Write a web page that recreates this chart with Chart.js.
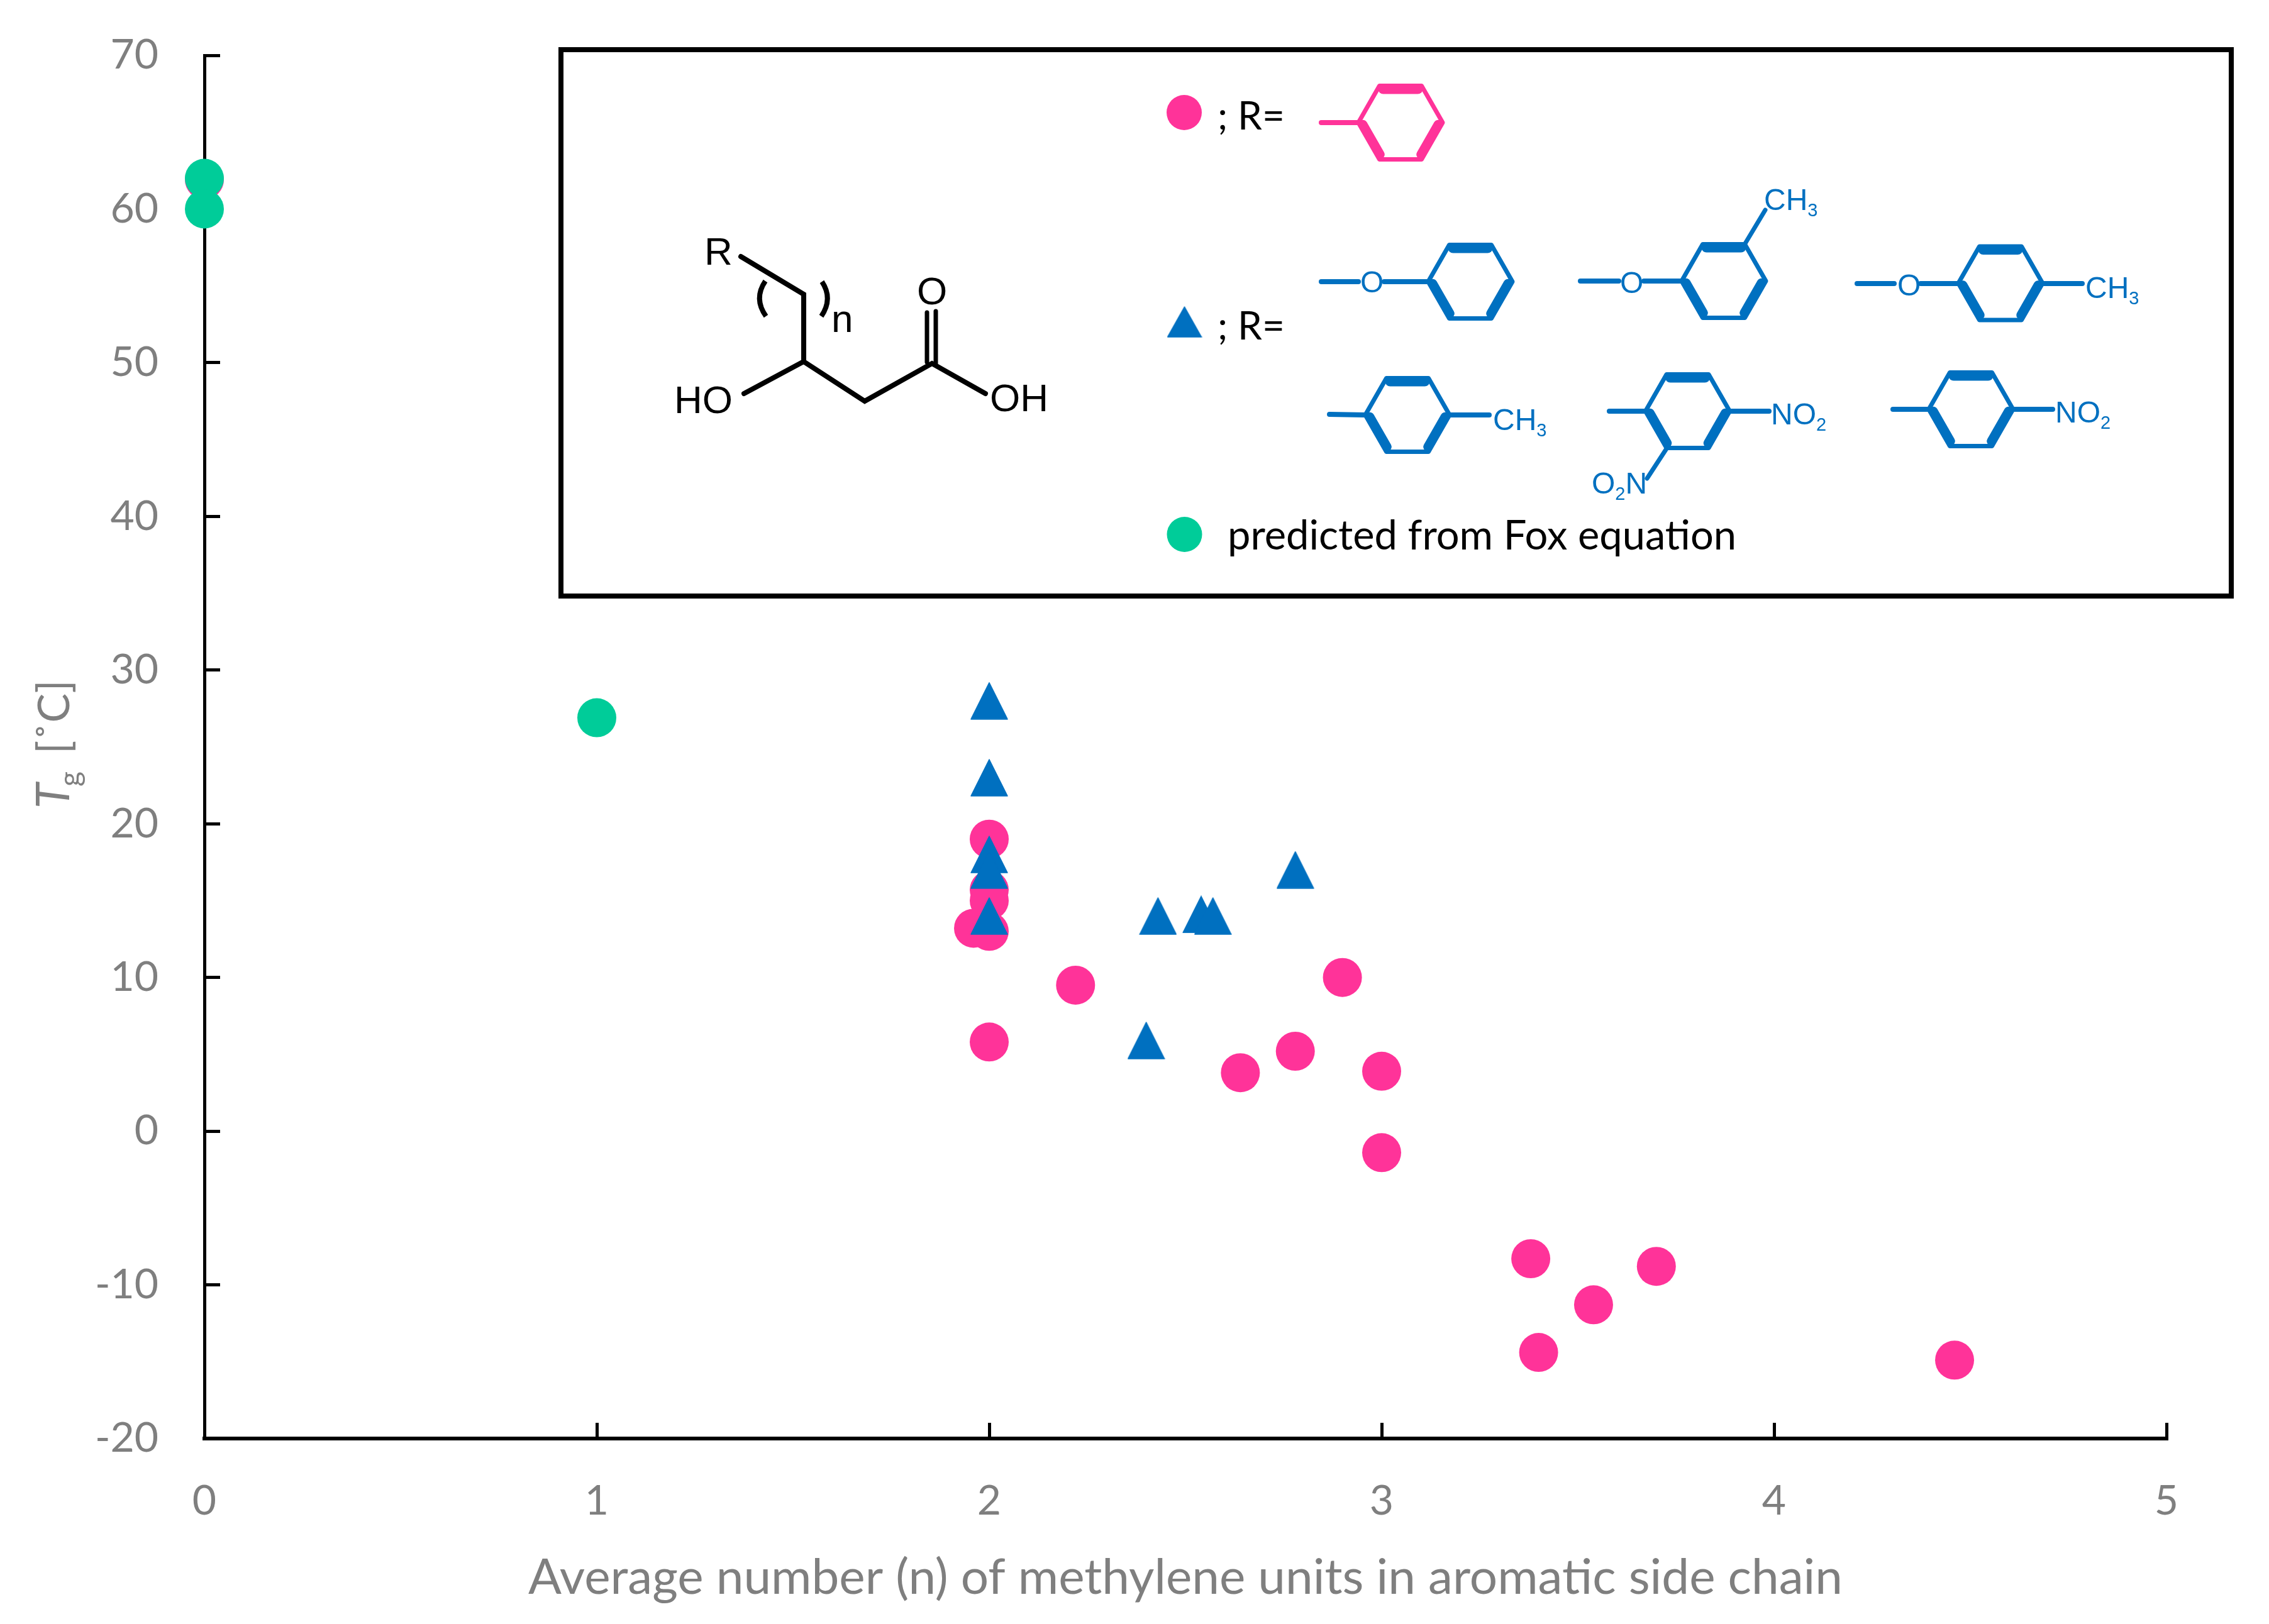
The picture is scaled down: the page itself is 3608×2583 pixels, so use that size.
<!DOCTYPE html>
<html>
<head>
<meta charset="utf-8">
<style>html,body{margin:0;padding:0;background:#fff}canvas{display:block}</style>
<script src="https://cdn.jsdelivr.net/npm/chart.js@4"></script>
</head>
<body>
<canvas id="c" width="3608" height="2583"></canvas>
<script>
const xTicks = [0, 1, 2, 3, 4, 5];
const yTicks = [-20, -10, 0, 10, 20, 30, 40, 50, 60, 70];
const xTitle = 'Average number (n) of methylene units in aromatic side chain';

const circleX = [0, 2, 2, 2, 1.96, 2, 2.22, 2.9, 2, 2.64, 2.78, 3, 3, 3.38, 3.4, 3.54, 3.7, 4.46];
const circleY = [61.9, 19, 15.7, 15, 13.2, 13, 9.5, 10, 5.8, 3.8, 5.2, 3.9, -1.4, -8.3, -14.4, -11.3, -8.8, -14.9];

const triangleX = [2, 2, 2, 2, 2, 2.43, 2.54, 2.57, 2.78, 2.4];
const triangleY = [28, 23, 18, 17, 14, 14, 14.1, 14, 17, 5.9];

const foxX = [0, 0, 1];
const foxY = [62, 60, 26.9];

const PINK = '#FF3399', BLUE = '#0070C0', GREEN = '#00CC99', GREY = '#7F7F7F';
const toPoints = (xs, ys) => xs.map((x, i) => ({x, y: ys[i]}));

function triangleSprite(w, h, color) {
  const s = document.createElement('canvas');
  s.width = w; s.height = h;
  const g = s.getContext('2d');
  g.fillStyle = color;
  g.strokeStyle = color;
  g.lineWidth = 1.5;
  g.lineJoin = 'round';
  g.beginPath();
  g.moveTo(w / 2, 1); g.lineTo(w - 1, h - 1); g.lineTo(1, h - 1); g.closePath();
  g.fill(); g.stroke();
  return s;
}

function line(g, pts, color, lw) {
  g.strokeStyle = color; g.lineWidth = lw; g.lineCap = 'round'; g.lineJoin = 'miter';
  g.beginPath();
  pts.forEach((p, i) => i ? g.lineTo(p[0], p[1]) : g.moveTo(p[0], p[1]));
  g.stroke();
}
function text(g, s, x, y, font, color, spacing) {
  g.font = font; g.fillStyle = color; g.textAlign = 'left'; g.textBaseline = 'alphabetic';
  g.letterSpacing = (spacing || 0) + 'px';
  g.fillText(s, x, y);
  g.letterSpacing = '0px';
}
function formula(g, parts, x, y, color) {
  parts.forEach(([s, sub]) => {
    const font = sub ? '29px "Liberation Sans"' : '48px "Liberation Sans"';
    text(g, s, x, y + (sub ? 10 : 0), font, color);
    g.font = font;
    x += g.measureText(s).width;
  });
}
function ring(g, cx, cy, color) {
  const hw = 67, hh = 58.5, ox = 33.5;
  const v = [[cx - hw, cy], [cx - ox, cy - hh], [cx + ox, cy - hh], [cx + hw, cy], [cx + ox, cy + hh], [cx - ox, cy + hh]];
  g.strokeStyle = color; g.lineWidth = 7; g.lineJoin = 'round'; g.lineCap = 'round';
  g.beginPath();
  v.forEach((p, i) => i ? g.lineTo(p[0], p[1]) : g.moveTo(p[0], p[1]));
  g.closePath(); g.stroke();
  [[1, 2, 16], [3, 4, 14], [5, 0, 14]].forEach(([a, b, lw]) => {
    const A = v[a], B = v[b];
    const mx = (A[0] + B[0]) / 2, my = (A[1] + B[1]) / 2;
    const d = Math.hypot(cx - mx, cy - my);
    const sx = (cx - mx) / d * 5, sy = (cy - my) / d * 5;
    const t = 0.09;
    line(g, [[A[0] + (B[0] - A[0]) * t + sx, A[1] + (B[1] - A[1]) * t + sy],
             [A[0] + (B[0] - A[0]) * (1 - t) + sx, A[1] + (B[1] - A[1]) * (1 - t) + sy]], color, lw);
  });
}

const structures = {
  id: 'structures',
  afterDraw(chart) {
    const g = chart.ctx;
    g.save();

    // frame
    g.strokeStyle = '#000'; g.lineWidth = 8; g.lineJoin = 'miter';
    g.strokeRect(892, 79, 2656, 869);

    // parent acid
    const K = '#000', kf = '62px "Liberation Sans"';
    line(g, [[1178, 408], [1278, 468], [1278, 575], [1375, 638], [1482, 578], [1567, 626]], K, 8);
    line(g, [[1278, 575], [1183, 626]], K, 8);
    line(g, [[1474, 497], [1474, 576]], K, 7);
    line(g, [[1488, 495], [1488, 578]], K, 7);
    g.strokeStyle = K; g.lineWidth = 8; g.lineCap = 'butt';
    g.beginPath(); g.moveTo(1217, 447); g.quadraticCurveTo(1198, 475, 1218, 503); g.stroke();
    g.beginPath(); g.moveTo(1307, 448); g.quadraticCurveTo(1325, 475, 1306, 503); g.stroke();
    text(g, 'R', 1120, 421, kf, K);
    text(g, 'n', 1322, 528, kf, K);
    text(g, 'O', 1458, 484, kf, K);
    text(g, 'HO', 1072, 657, kf, K);
    text(g, 'OH', 1574, 654, kf, K);

    // legend markers
    g.fillStyle = PINK; g.beginPath(); g.arc(1883, 179, 28, 0, Math.PI * 2); g.fill();
    g.fillStyle = GREEN; g.beginPath(); g.arc(1883.5, 850, 28, 0, Math.PI * 2); g.fill();
    g.drawImage(triangleSprite(56, 50, BLUE), 1855.5, 487);

    // legend wording
    const K2 = '62px Lato';
    text(g, '; R=', 1936, 206, K2, K);
    text(g, '; R=', 1936, 540, K2, K);
    text(g, 'predicted from Fox equation', 1952, 874, '65px Lato', K);

    // pink substituent
    ring(g, 2227, 195, PINK);
    line(g, [[2101, 195], [2160, 195]], PINK, 8);

    // blue substituents
    const B = BLUE, of = '48px "Liberation Sans"';
    ring(g, 2338, 448, B);
    line(g, [[2101, 448], [2160, 448]], B, 8);
    line(g, [[2201, 448], [2271, 448]], B, 8);
    text(g, 'O', 2163, 465, of, B);

    ring(g, 2741, 447, B);
    line(g, [[2513, 447], [2574, 447]], B, 8);
    line(g, [[2614, 447], [2674, 447]], B, 8);
    line(g, [[2774, 389], [2807, 334]], B, 7);
    text(g, 'O', 2576, 466, of, B);
    formula(g, [['CH'], ['3', 1]], 2805, 334, B);

    ring(g, 3181, 450.5, B);
    line(g, [[2953, 451], [3012, 451]], B, 8);
    line(g, [[3054, 451], [3114, 451]], B, 8);
    line(g, [[3248, 451], [3311, 451]], B, 8);
    text(g, 'O', 3017, 470, of, B);
    formula(g, [['CH'], ['3', 1]], 3316, 474, B);

    ring(g, 2238, 660, B);
    line(g, [[2114, 659], [2171, 660]], B, 8);
    line(g, [[2305, 660], [2368, 660]], B, 8);
    formula(g, [['CH'], ['3', 1]], 2374, 684, B);

    ring(g, 2683.5, 654, B);
    line(g, [[2559, 654], [2617, 654]], B, 8);
    line(g, [[2750, 654], [2813, 654]], B, 8);
    line(g, [[2651, 712], [2619, 761]], B, 7);
    formula(g, [['NO'], ['2', 1]], 2816, 675, B);
    formula(g, [['O'], ['2', 1], ['N']], 2531, 785, B);

    ring(g, 3134, 651, B);
    line(g, [[3010, 651], [3068, 651]], B, 8);
    line(g, [[3201, 651], [3264, 651]], B, 8);
    formula(g, [['NO'], ['2', 1]], 3268, 672, B);

    // y axis title, mixed italic and subscript
    g.translate(110, 0);
    g.rotate(-Math.PI / 2);
    text(g, 'T', -1286, 0, 'italic 74px Lato', GREY);
    text(g, 'g', -1251, 17, '46px Lato', GREY);
    text(g, '[˚C]', -1199, 0, '70px Lato', GREY);
    g.restore();
  }
};

new Chart(document.getElementById('c'), {
  type: 'scatter',
  data: {
    datasets: [
      {label: 'predicted from Fox equation', data: toPoints(foxX, foxY), backgroundColor: GREEN, borderWidth: 0, pointStyle: 'circle', pointRadius: 31, clip: false},
      {label: 'R = substituted', data: toPoints(triangleX, triangleY), backgroundColor: BLUE, borderWidth: 0, pointStyle: triangleSprite(60, 60, BLUE), pointRadius: 30, clip: false},
      {label: 'R = phenyl', data: toPoints(circleX, circleY), backgroundColor: PINK, borderWidth: 0, pointStyle: 'circle', pointRadius: 31, clip: false}
    ]
  },
  plugins: [structures],
  options: {
    responsive: false,
    devicePixelRatio: 1,
    animation: false,
    layout: {padding: {left: 0, right: 163, top: 88, bottom: 0}},
    plugins: {legend: {display: false}, tooltip: {enabled: false}, title: {display: false}},
    scales: {
      x: {
        type: 'linear', min: 0, max: 5,
        afterBuildTicks: s => { s.ticks = xTicks.map(value => ({value})); },
        afterFit: s => { s.height = 295; s.paddingLeft = 0; s.paddingRight = 0; },
        grid: {drawOnChartArea: false, drawTicks: true, tickLength: -25, tickWidth: 5, tickColor: '#000'},
        border: {display: true, color: '#000', width: 6},
        ticks: {color: GREY, font: {family: 'Lato', size: 66}, padding: 85, maxRotation: 0, autoSkip: false},
        title: {display: true, text: xTitle, color: GREY, font: {family: 'Lato', size: 78.3}, padding: {top: 0, bottom: 26}}
      },
      y: {
        type: 'linear', min: -20, max: 70,
        afterBuildTicks: s => { s.ticks = yTicks.map(value => ({value})); },
        afterFit: s => { s.width = 325; s.paddingTop = 0; s.paddingBottom = 0; },
        grid: {drawOnChartArea: false, drawTicks: true, tickLength: -25, tickWidth: 5, tickColor: '#000'},
        border: {display: true, color: '#000', width: 5},
        ticks: {color: GREY, font: {family: 'Lato', size: 66}, padding: 98, autoSkip: false}
      }
    }
  }
});
</script>
</body>
</html>
